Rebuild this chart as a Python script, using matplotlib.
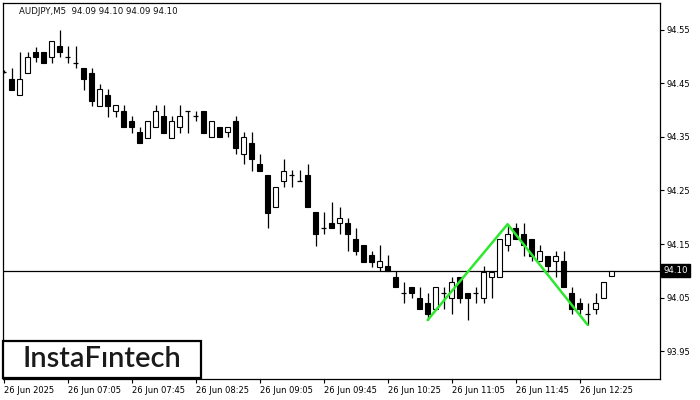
import numpy as np
import matplotlib
matplotlib.use("Agg")
from matplotlib import pyplot as plt
from matplotlib.patches import Rectangle

# AUDJPY M5 candles, 26 Jun 2025 from 06:25
opens = [94.471, 94.458, 94.429, 94.470, 94.509, 94.509, 94.500, 94.520, 94.500, 94.488,
         94.479, 94.470, 94.408, 94.429, 94.399, 94.399, 94.380, 94.359, 94.348, 94.369,
         94.389, 94.348, 94.369, 94.399, 94.389, 94.399, 94.350, 94.369, 94.359, 94.380,
         94.318, 94.339, 94.300, 94.279, 94.219, 94.268, 94.279, 94.268, 94.279, 94.210,
         94.180, 94.189, 94.189, 94.189, 94.159, 94.148, 94.129, 94.107, 94.109, 94.088,
         94.058, 94.070, 94.049, 94.040, 94.029, 94.058, 94.049, 94.088, 94.058, 94.058,
         94.049, 94.088, 94.088, 94.148, 94.180, 94.169, 94.159, 94.118, 94.128, 94.118,
         94.118, 94.058, 94.040, 94.019, 94.029, 94.049, 94.090]
highs = [94.475, 94.479, 94.509, 94.509, 94.518, 94.509, 94.529, 94.550, 94.520, 94.520,
         94.479, 94.479, 94.449, 94.440, 94.410, 94.410, 94.389, 94.369, 94.380, 94.410,
         94.410, 94.389, 94.410, 94.399, 94.399, 94.399, 94.380, 94.369, 94.369, 94.389,
         94.359, 94.359, 94.318, 94.279, 94.257, 94.309, 94.288, 94.288, 94.300, 94.210,
         94.210, 94.229, 94.219, 94.199, 94.180, 94.148, 94.137, 94.148, 94.129, 94.100,
         94.079, 94.070, 94.070, 94.058, 94.070, 94.070, 94.088, 94.088, 94.058, 94.070,
         94.109, 94.098, 94.159, 94.187, 94.189, 94.189, 94.159, 94.148, 94.128, 94.137,
         94.137, 94.070, 94.049, 94.040, 94.058, 94.079, 94.100]
lows = [94.470, 94.438, 94.429, 94.470, 94.490, 94.488, 94.488, 94.500, 94.488, 94.479,
        94.438, 94.408, 94.408, 94.387, 94.387, 94.369, 94.357, 94.339, 94.348, 94.369,
        94.357, 94.348, 94.357, 94.357, 94.380, 94.357, 94.350, 94.350, 94.350, 94.318,
        94.300, 94.286, 94.286, 94.180, 94.219, 94.257, 94.257, 94.268, 94.219, 94.146,
        94.169, 94.180, 94.169, 94.137, 94.129, 94.116, 94.107, 94.100, 94.100, 94.070,
        94.040, 94.049, 94.029, 94.008, 94.029, 94.029, 94.019, 94.040, 94.008, 94.040,
        94.040, 94.049, 94.088, 94.137, 94.159, 94.128, 94.118, 94.118, 94.098, 94.088,
        94.070, 94.019, 94.019, 93.999, 94.019, 94.049, 94.090]
closes = [94.471, 94.438, 94.458, 94.500, 94.500, 94.488, 94.529, 94.509, 94.500, 94.488,
          94.458, 94.417, 94.440, 94.408, 94.410, 94.369, 94.369, 94.339, 94.380, 94.399,
          94.357, 94.380, 94.389, 94.399, 94.389, 94.357, 94.380, 94.350, 94.369, 94.329,
          94.350, 94.309, 94.286, 94.208, 94.257, 94.286, 94.279, 94.268, 94.219, 94.169,
          94.180, 94.180, 94.199, 94.169, 94.137, 94.116, 94.116, 94.118, 94.100, 94.070,
          94.058, 94.058, 94.029, 94.019, 94.070, 94.058, 94.079, 94.049, 94.049, 94.058,
          94.098, 94.098, 94.159, 94.169, 94.159, 94.148, 94.128, 94.137, 94.109, 94.128,
          94.070, 94.029, 94.029, 94.019, 94.040, 94.079, 94.100]

# double bottom pattern: bottom, peak, bottom (bar indices)
pattern_bars = [53, 63, 73]

last_price = 94.10
y_ticks = [93.95, 94.05, 94.15, 94.25, 94.35, 94.45, 94.55]
x_tick_bars = [0, 8, 16, 24, 32, 40, 48, 56, 64, 72]
x_tick_labels = ["26 Jun 2025", "26 Jun 07:05", "26 Jun 07:45", "26 Jun 08:25",
                 "26 Jun 09:05", "26 Jun 09:45", "26 Jun 10:25", "26 Jun 11:05",
                 "26 Jun 11:45", "26 Jun 12:25"]

o = np.array(opens)
h = np.array(highs)
l = np.array(lows)
c = np.array(closes)
idx = np.arange(len(o))

W, H = 700, 400
fig = plt.figure(figsize=(7, 4), dpi=100)
ax = fig.add_axes([3 / W, 1 - 379 / H, 657 / W, 376 / H])

# wicks
ax.vlines(idx, l, h, color="black", lw=0.9, zorder=2)

bw = 0.55
up = c > o
down = c < o
doji = c == o
ax.bar(idx[up], (c - o)[up], bottom=o[up], width=bw, facecolor="white",
       edgecolor="black", lw=0.8, zorder=3)
ax.bar(idx[down], (o - c)[down], bottom=c[down], width=bw, facecolor="black",
       edgecolor="black", lw=0.8, zorder=3)
ax.hlines(c[doji], idx[doji] - bw / 2, idx[doji] + bw / 2, color="black", lw=0.9, zorder=3)

# pattern line
px = pattern_bars
py = [l[px[0]], h[px[1]], l[px[2]]]
ax.plot(px, py, color="#2ee82e", lw=1.8, zorder=4, solid_capstyle="round")

ax.axhline(last_price, color="black", lw=0.9, zorder=1)

ax.set_xlim(-0.075, 82.05)
ax.set_ylim(93.898, 94.600)

ax.yaxis.tick_right()
ax.set_yticks(y_ticks)
ax.set_yticklabels([f"{v:.2f}" for v in y_ticks])
ax.tick_params(axis="y", length=3, width=0.8, pad=2, labelsize=6)
ax.set_xticks(x_tick_bars)
ax.set_xticklabels(x_tick_labels, ha="left")
ax.tick_params(axis="x", length=3, width=0.8, pad=2, labelsize=6)
for s in ax.spines.values():
    s.set_linewidth(0.9)

# price marker on the right axis
ax.text(1.005, last_price, f"{last_price:.2f}", transform=ax.get_yaxis_transform(),
        fontsize=6.2, color="white", va="center", ha="left",
        bbox=dict(boxstyle="square,pad=0.25", facecolor="black", edgecolor="black"))

fig.text(19 / W, 1 - 11 / H, "AUDJPY,M5  94.09 94.10 94.09 94.10", fontsize=6.2,
         va="center", ha="left", color="#111111")

# logo
fig.patches.append(Rectangle((3 / W, 1 - 378 / H), 198 / W, 37 / H, transform=fig.transFigure,
                             facecolor="white", edgecolor="black", lw=1.6, zorder=5))
fig.text(102 / W, 1 - 359 / H, "InstaF\u0131ntech", fontsize=21, family="Lato",
         weight="semibold", ha="center", va="center", color="#1a1a1a", zorder=6)

fig.savefig("out.png", dpi=100)
